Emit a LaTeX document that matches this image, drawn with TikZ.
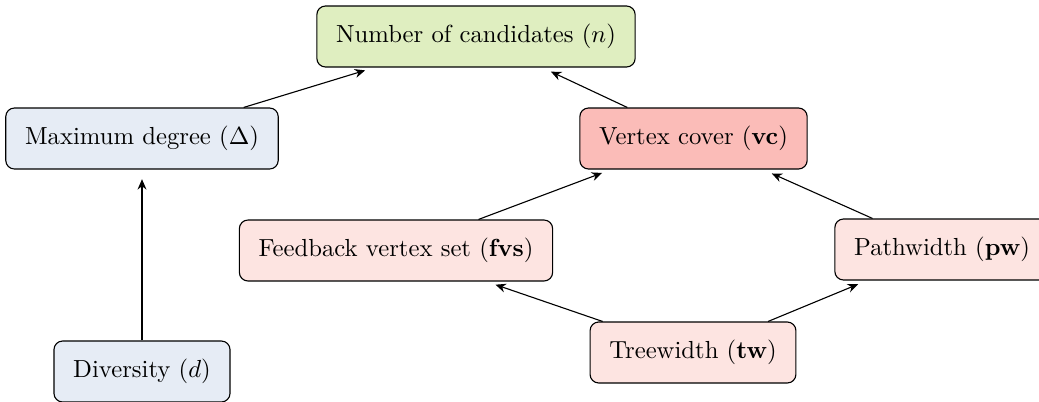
\documentclass[tikz,border=0pt]{standalone}
\usetikzlibrary{arrows.meta}
\definecolor{topgreen}{RGB}{223,238,192}
\definecolor{paleblue}{RGB}{230,236,245}
\definecolor{strongred}{RGB}{251,188,184}
\definecolor{palered}{RGB}{253,228,225}
\tikzset{
  param/.style={draw=black, line width=0.45pt, rounded corners=3.5pt,
    minimum height=24.7pt, inner xsep=7.8pt, font=\normalsize},
  rel/.style={-{Stealth[length=4.2pt,width=3.6pt]}, line width=0.45pt, shorten >=3.9pt}
}
\begin{document}
\begin{tikzpicture}[x=0.405pt, y=-0.405pt]
  \useasboundingbox (0,0) rectangle (1039,401);
  \clip (0,0) rectangle (1039,401);
  % parameter boxes
  \node[param, fill=topgreen]  (n)   at (476,36.5)   {Number of candidates ($n$)};
  \node[param, fill=paleblue]  (deg) at (142,138.5)  {Maximum degree ($\Delta$)};
  \node[param, fill=strongred] (vc)  at (693.5,138.5) {Vertex cover (\textbf{vc})};
  \node[param, fill=palered]   (fvs) at (396,250.5)  {Feedback vertex set (\textbf{fvs})};
  \node[param, fill=palered]   (pw)  at (942,249.5)  {Pathwidth (\textbf{pw})};
  \node[param, fill=palered]   (tw)  at (693,352.5)  {Treewidth (\textbf{tw})};
  \node[param, fill=paleblue]  (div) at (142,371.5)  {Diversity ($d$)};
  % bounds between parameters
  \draw[rel] (deg) -- (n);
  \draw[rel] (vc)  -- (n);
  \draw[rel] (div) -- (deg);
  \draw[rel] (fvs) -- (vc);
  \draw[rel] (pw)  -- (vc);
  \draw[rel] (tw)  -- (fvs);
  \draw[rel] (tw)  -- (pw);
\end{tikzpicture}
\end{document}
